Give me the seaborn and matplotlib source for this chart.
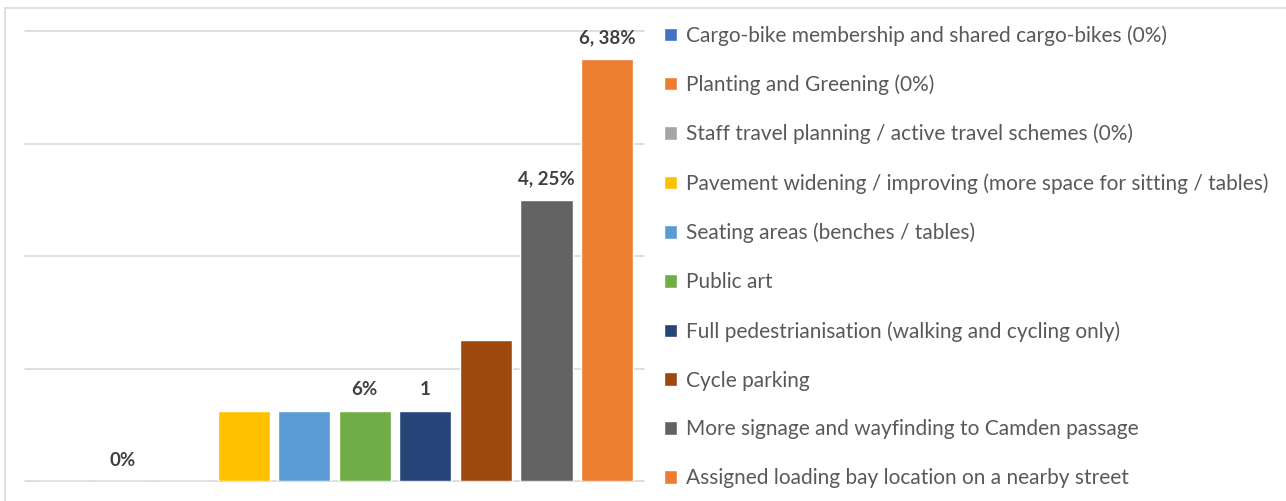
import matplotlib
matplotlib.use("Agg")
import matplotlib.pyplot as plt
import seaborn as sns
import pandas as pd
from matplotlib.patches import Rectangle

categories = [
    "Cargo-bike membership and shared cargo-bikes (0%)",
    "Planting and Greening (0%)",
    "Staff travel planning / active travel schemes (0%)",
    "Pavement widening / improving (more space for sitting / tables)",
    "Seating areas (benches / tables)",
    "Public art",
    "Full pedestrianisation (walking and cycling only)",
    "Cycle parking",
    "More signage and wayfinding to Camden passage",
    "Assigned loading bay location on a nearby street",
]
counts = [0, 0, 0, 1, 1, 1, 1, 2, 4, 6]
total_responses = 16
bar_labels = ["", "0%", "", "", "", "6%", "1", "", "4, 25%", "6, 38%"]
colors = ["#4472C4", "#ED7D31", "#A5A5A5", "#FFC000", "#5B9BD5",
          "#70AD47", "#264478", "#9E480E", "#636363", "#ED7D31"]

df = pd.DataFrame({"category": categories,
                   "pct": [c / total_responses * 100 for c in counts]})

sns.set_theme(style="white")
plt.rcParams['font.family'] = ['Lato', 'DejaVu Sans']

W, H = 1286, 501
fig = plt.figure(figsize=(W / 100, H / 100), dpi=100)
ax = fig.add_axes([25 / W, 20 / H, 619 / W, 450 / H])

sns.barplot(data=df, x="category", y="pct", hue="category", palette=colors,
            width=0.86, dodge=False, saturation=1, ax=ax, legend=True)

ax.set_ylim(0, 40)
ax.set_xlim(-0.61, 9.61)
ax.set_yticks([0, 10, 20, 30, 40])
ax.set_yticklabels([])
ax.set_xticks([])
ax.set_xlabel("")
ax.set_ylabel("")
ax.tick_params(length=0)
for s in ax.spines.values():
    s.set_visible(False)
ax.yaxis.grid(True, color="#D9D9D9", lw=1.2)
ax.set_axisbelow(True)
for ln in ax.get_ygridlines():
    ln.set_clip_on(False)

for cont, lab in zip(ax.containers, bar_labels):
    ax.bar_label(cont, labels=[lab], padding=9, fontsize=13.5, fontweight="bold",
                 color="#404040")

sns.move_legend(ax, "upper left", bbox_to_anchor=(664 / W, 1 - 25 / H),
                bbox_transform=fig.transFigure, frameon=False, title=None,
                fontsize=15, labelspacing=1.385, handlelength=0.62,
                handleheight=0.62, handletextpad=0.45, labelcolor="#595959",
                borderpad=0, borderaxespad=0)

fig.patches.append(Rectangle((5 / W, -0.1), 1.2, 1.1 - 8 / H,
                             transform=fig.transFigure, fill=False,
                             edgecolor="#D9D9D9", lw=1.2))

fig.savefig("out.png", dpi=100)
